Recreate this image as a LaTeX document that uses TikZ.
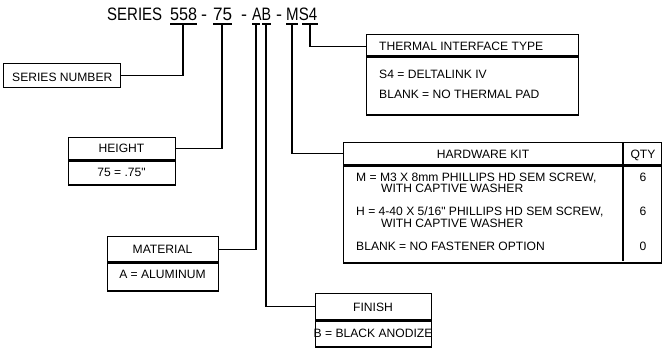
\documentclass[tikz,border=0pt]{standalone}
\usepackage{fontspec}
\setmainfont{Liberation Sans}[Ligatures=TeXOff]
\begin{document}
\begin{tikzpicture}[x=1pt,y=-1pt,
  box/.style={draw, line width=1.4pt, inner sep=0pt, anchor=north west},
  conn/.style={line width=1.2pt},
  txt/.style={font=\fontsize{12.1}{14}\selectfont, inner sep=0pt, anchor=base west},
  ctxt/.style={font=\fontsize{12.1}{14}\selectfont, inner sep=0pt, anchor=base},
  ttl/.style={font=\fontsize{18}{20}\selectfont, inner sep=0pt, anchor=base west}]
\useasboundingbox (0,0) rectangle (663,348);

% title
\node[ttl] (tS) at (107,20) {\resizebox{55pt}{\height}{SERIES}};
\node[ttl] (t1) at (170,20) {\resizebox{27pt}{\height}{558}};
\node[ttl] (d1) at (201,20) {-};
\node[ttl] (t2) at (213,20) {\resizebox{19pt}{\height}{75}};
\node[ttl] (d2) at (241,20) {-};
\node[ttl] (t3) at (252,20) {\resizebox{19pt}{\height}{AB}};
\node[ttl] (d3) at (276,20) {-};
\node[ttl] (t4) at (286,20) {\resizebox{31pt}{\height}{MS4}};

% underlines
\draw[conn] (170,24) -- (197,24);
\draw[conn] (213,24) -- (232,24);
\draw[conn] (252,24) -- (260,24);
\draw[conn] (262,24) -- (271,24);
\draw[conn] (286,24) -- (298,24);
\draw[conn] (302,24) -- (318,24);
\coordinate (u1) at (183,24);
\coordinate (u2) at (222,24);
\coordinate (uA) at (256,24);
\coordinate (uB) at (266,24);
\coordinate (uM) at (292,24);
\coordinate (uS) at (310,24);

% series number
\node[box, minimum width=117pt, minimum height=24pt] (sn) at (3,63) {};
\node[txt] (snt) at (12,81) {SERIES NUMBER};

% height
\node[box, minimum width=107pt, minimum height=22pt] (hth) at (68,137) {};
\node[box, minimum width=107pt, minimum height=24pt] (htb) at (hth.south west) {};
\node[ctxt] (htt) at (121.5,152.5) {HEIGHT};
\node[ctxt] (htv) at (121.5,176.5) {75 = .75"};

% material
\node[box, minimum width=111pt, minimum height=25pt] (mth) at (107,236) {};
\node[box, minimum width=111pt, minimum height=28pt] (mtb) at (mth.south west) {};
\node[ctxt] (mtt) at (162.5,253) {MATERIAL};
\node[ctxt] (mtv) at (162.5,278.5) {A = ALUMINUM};

% finish
\node[box, minimum width=116pt, minimum height=26pt] (fnh) at (315,293) {};
\node[box, minimum width=116pt, minimum height=26pt] (fnb) at (fnh.south west) {};
\node[ctxt] (fnt) at (373,311) {FINISH};
\node[ctxt] (fnv) at (373,337) {B = BLACK ANODIZE};

% thermal interface
\node[box, minimum width=212pt, minimum height=21pt] (thh) at (366,34) {};
\node[box, minimum width=212pt, minimum height=58pt] (thb) at (thh.south west) {};
\node[txt] (tht) at (379,50) {THERMAL INTERFACE TYPE};
\node[txt] (th1) at (379,78) {S4 = DELTALINK IV};
\node[txt] (th2) at (379,98) {BLANK = NO THERMAL PAD};

% hardware kit
\node[box, minimum width=318pt, minimum height=22pt] (hwh) at (343,142) {};
\node[box, minimum width=318pt, minimum height=97pt] (hwb) at (hwh.south west) {};
\coordinate (qtop) at (623,142);
\coordinate (qbot) at (623,261);
\draw[line width=1.4pt] (qtop) -- (qbot);
\node[ctxt] (hwt) at (483,158.5) {HARDWARE KIT};
\node[ctxt] (hwq) at (643,158.5) {QTY};
\node[txt] (hw1) at (356,181) {M = M3 X 8mm PHILLIPS HD SEM SCREW,};
\node[txt] (hw1b) at (381,192.5) {WITH CAPTIVE WASHER};
\node[txt] (hw2) at (356,215) {H = 4-40 X 5/16" PHILLIPS HD SEM SCREW,};
\node[txt] (hw2b) at (381,227) {WITH CAPTIVE WASHER};
\node[txt] (hw3) at (356,250) {BLANK = NO FASTENER OPTION};
\node[ctxt] (q1) at (643,181) {6};
\node[ctxt] (q2) at (643,215) {6};
\node[ctxt] (q3) at (643,250) {0};

% connectors
\draw[conn] (u1) |- (sn.east);
\draw[conn] (u2) |- (hth.east);
\draw[conn] (uA) |- (mth.east);
\draw[conn] (uB) |- (fnh.west);
\draw[conn] (uM) |- (hwh.west);
\draw[conn] (uS) |- ([yshift=-1.5pt]thh.west);
\end{tikzpicture}
\end{document}
